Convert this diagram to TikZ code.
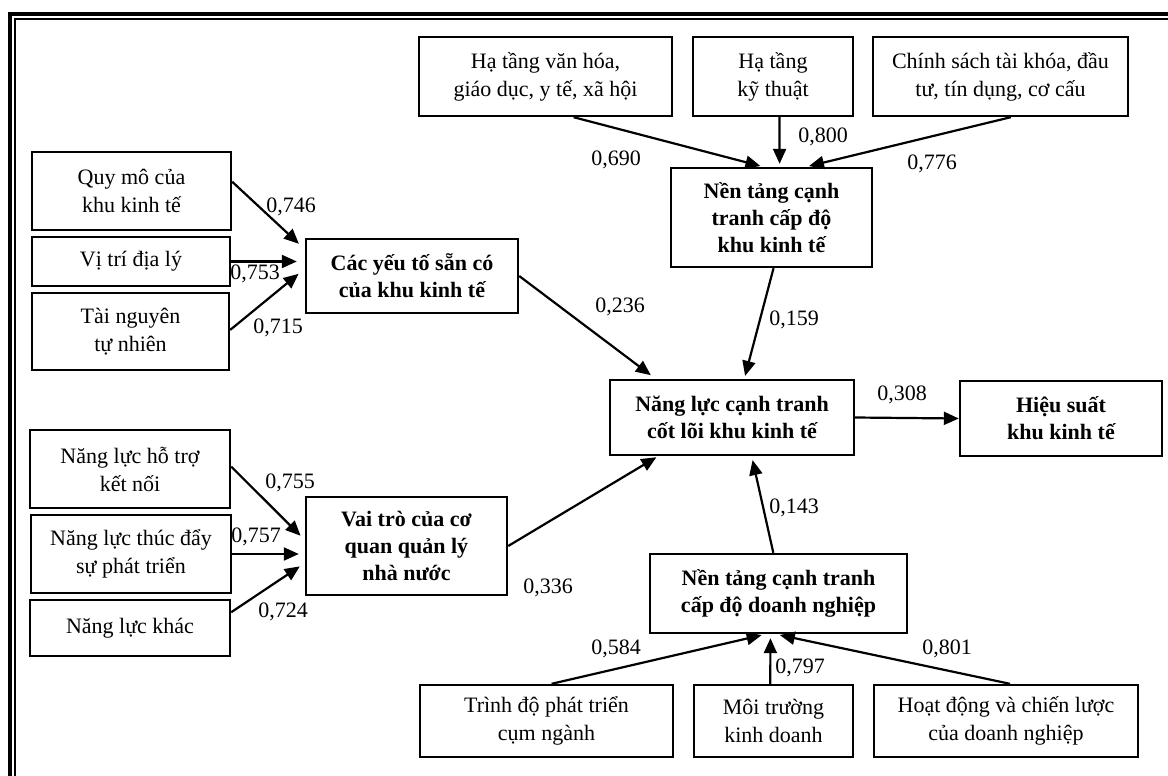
\documentclass[tikz,border=0pt]{standalone}
\usepackage{fontspec}
\setmainfont{Liberation Serif}
\usetikzlibrary{calc,arrows.meta}
\begin{document}
\begin{tikzpicture}[x=0.5pt,y=-0.5pt,
  box/.style={draw,line width=1.2pt,align=center,inner sep=0pt,font=\fontsize{11}{14}\selectfont},
  bbox/.style={box,font=\fontsize{11}{13.5}\selectfont\bfseries},
  arr/.style={line width=1.1pt,-{Triangle[length=7.5pt,width=6.5pt]}},
  lbl/.style={font=\fontsize{11}{13}\selectfont,inner sep=0pt}]
\useasboundingbox (0,0) rectangle (1168,776);
\clip (0,0) rectangle (1168,776);
% frame
\draw[line width=2pt] (10,800) -- (10,14) -- (1200,14);
\draw[line width=1pt] (15,800) -- (15,19) -- (1200,19);
% left upper
\node[box,minimum width=99.5pt,minimum height=39pt] (qm) at (131.5,191) {Quy mô của\\khu kinh tế};
\node[box,minimum width=99pt,minimum height=24.5pt] (vt) at (131,261.5) {Vị trí địa lý};
\node[box,minimum width=98.5pt,minimum height=38.5pt] (tn) at (130.5,331.5) {Tài nguyên\\tự nhiên};
\node[bbox,minimum width=106pt,minimum height=37pt] (cyt) at (412,276) {Các yếu tố sẵn có\\của khu kinh tế};
% top
\node[box,minimum width=126.5pt,minimum height=39.5pt] (ht1) at (545.5,76.5) {Hạ tầng văn hóa,\\giáo dục, y tế, xã hội};
\node[box,minimum width=80pt,minimum height=39.5pt] (ht2) at (773,76.5) {Hạ tầng\\kỹ thuật};
\node[box,minimum width=127.5pt,minimum height=39.5pt] (cs) at (1000.5,76.5) {Chính sách tài khóa, đầu\\tư, tín dụng, cơ cấu};
\node[bbox,minimum width=100.5pt,minimum height=49.5pt] (kkt) at (771.5,217.5) {Nền tảng cạnh\\tranh cấp độ\\khu kinh tế};
% centre
\node[bbox,minimum width=122pt,minimum height=37.5pt] (cl) at (732,417.5) {Năng lực cạnh tranh\\cốt lõi khu kinh tế};
\node[bbox,minimum width=101pt,minimum height=37.5pt] (hs) at (1061,418.5) {Hiệu suất\\khu kinh tế};
% left lower
\node[box,minimum width=100pt,minimum height=39pt] (hotro) at (130,469) {Năng lực hỗ trợ\\kết nối};
\node[box,minimum width=100pt,minimum height=39pt] (td) at (131,554) {Năng lực thúc đẩy\\sự phát triển};
\node[box,minimum width=100pt,minimum height=28pt] (nk) at (130,628) {Năng lực khác};
\node[bbox,minimum width=100.5pt,minimum height=49pt] (vtr) at (406.5,546) {Vai trò của cơ\\quan quản lý\\nhà nước};
% bottom
\node[bbox,minimum width=128.5pt,minimum height=39.5pt] (dn) at (778.5,593.5) {Nền tảng cạnh tranh\\cấp độ doanh nghiệp};
\node[box,minimum width=126.5pt,minimum height=36pt] (tdp) at (546.5,721) {Trình độ phát triển\\cụm ngành};
\node[box,minimum width=79.5pt,minimum height=36pt] (mt) at (773.5,721) {Môi trường\\kinh doanh};
\node[box,minimum width=132pt,minimum height=36pt] (hd) at (1006,721) {Hoạt động và chiến lược\\của doanh nghiệp};
% arrows
\draw[arr,shorten >=4pt] ($(qm.north east)!0.385!(qm.south east)$) -- ($(cyt.north west)!0.15!(cyt.south west)$);
\draw[arr,shorten >=4pt] (vt.east) -- (vt.east -| cyt.west);
\draw[arr,shorten >=4pt] ($(tn.north east)!0.48!(tn.south east)$) -- ($(cyt.north west)!0.405!(cyt.south west)$);
\draw[arr,shorten >=3pt] ($(hotro.north east)!0.47!(hotro.south east)$) -- ($(vtr.north west)!0.44!(vtr.south west)$);
\draw[arr,shorten >=3pt] (td.east) -- (td.east -| vtr.west);
\draw[arr,shorten >=3pt] ($(nk.north east)!0.23!(nk.south east)$) -- ($(vtr.north west)!0.67!(vtr.south west)$);
\draw[arr,shorten >=1.5pt] ($(ht1.south west)!0.61!(ht1.south east)$) -- ($(kkt.north west)!0.46!(kkt.north east)$);
\draw[arr,shorten >=1.5pt] ($(ht2.south west)!0.54!(ht2.south east)$) -- ($(kkt.north west)!0.54!(kkt.north east)$);
\draw[arr,shorten >=1.5pt] ($(cs.south west)!0.54!(cs.south east)$) -- ($(kkt.north west)!0.67!(kkt.north east)$);
\draw[arr,shorten >=3pt] (cyt.east) -- ($(cl.north west)!0.19!(cl.north east)$);
\draw[arr,shorten >=1.5pt] ($(kkt.south west)!0.51!(kkt.south east)$) -- ($(cl.north west)!0.55!(cl.north east)$);
\draw[arr,shorten >=1pt] (vtr.east) -- ($(cl.south west)!0.2!(cl.south east)$);
\draw[arr,shorten >=2pt] ($(dn.north west)!0.48!(dn.north east)$) -- ($(cl.south west)!0.58!(cl.south east)$);
\draw[arr] (cl.east) -- (hs.west);
\draw[arr,shorten >=2pt] ($(tdp.north west)!0.52!(tdp.north east)$) -- ($(dn.south west)!0.45!(dn.south east)$);
\draw[arr,shorten >=2pt] ($(mt.north west)!0.48!(mt.north east)$) -- ($(dn.south west)!0.469!(dn.south east)$);
\draw[arr,shorten >=2pt] ($(hd.north west)!0.515!(hd.north east)$) -- ($(dn.south west)!0.49!(dn.south east)$);
% labels
\node[lbl] (l746) at (291,207) {0,746};
\node[lbl] (l753) at (255,274) {0,753};
\node[lbl] (l715) at (278,328) {0,715};
\node[lbl] (l755) at (290,483) {0,755};
\node[lbl] (l757) at (256,537) {0,757};
\node[lbl] (l724) at (283,612) {0,724};
\node[lbl] (l690) at (616,160) {0,690};
\node[lbl] (l800) at (823,137) {0,800};
\node[lbl] (l776) at (932,164) {0,776};
\node[lbl] (l236) at (620,307) {0,236};
\node[lbl] (l159) at (794,320) {0,159};
\node[lbl] (l336) at (548,588) {0,336};
\node[lbl] (l143) at (794,508) {0,143};
\node[lbl] (l308) at (902,395) {0,308};
\node[lbl] (l584) at (616,649) {0,584};
\node[lbl] (l797) at (800,668) {0,797};
\node[lbl] (l801) at (947,649) {0,801};
\end{tikzpicture}
\end{document}
